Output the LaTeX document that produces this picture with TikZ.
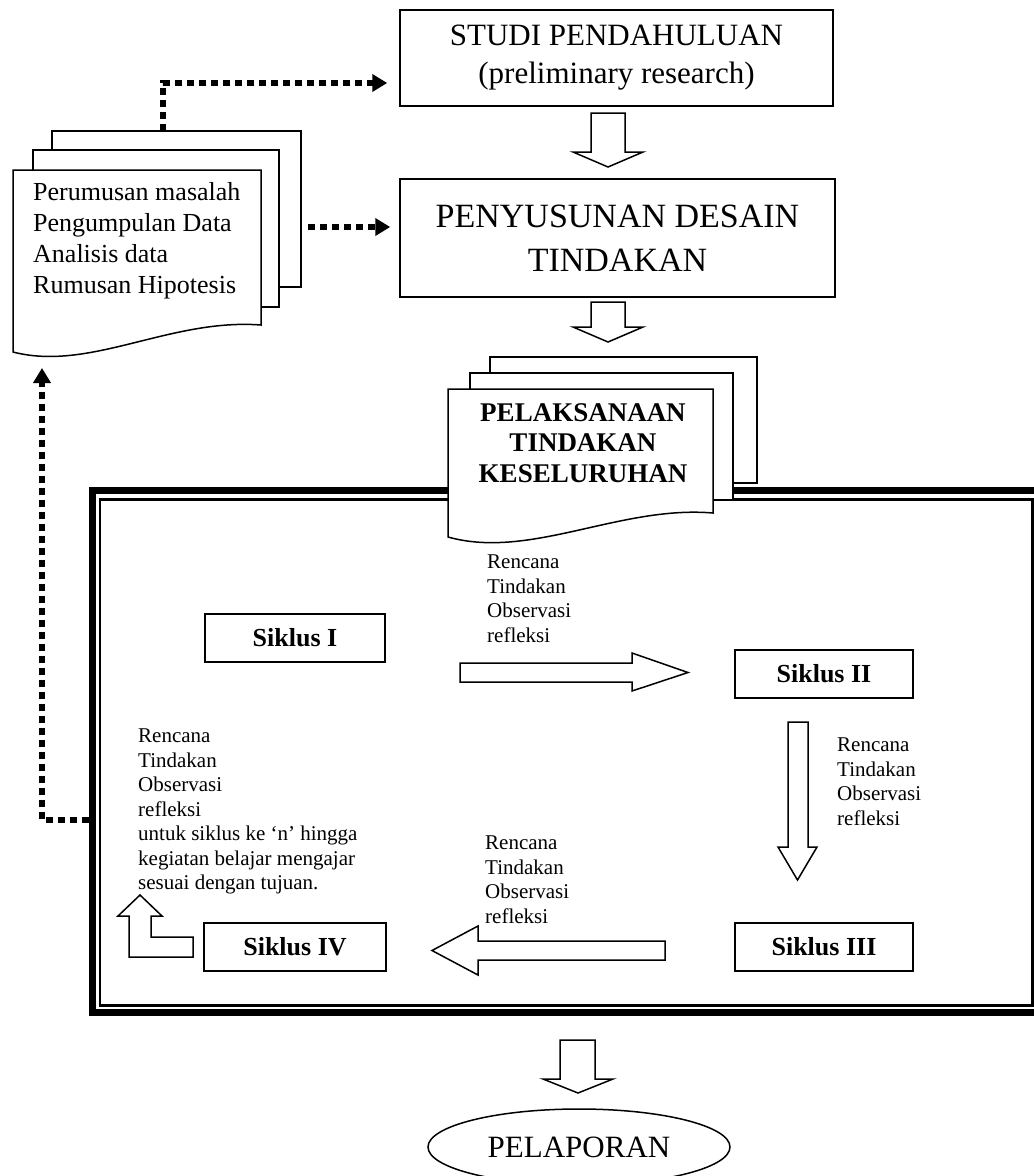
\documentclass[tikz,border=0pt]{standalone}
\usepackage{fontspec}
\setmainfont{Liberation Serif}
\usetikzlibrary{positioning,shapes.geometric,arrows.meta}

\begin{document}
\begin{tikzpicture}[x=1pt, y=-1pt,
  box/.style={draw, line width=1.5pt, inner sep=0pt, align=center, font=\fontsize{31}{38}\selectfont},
  siklus/.style={draw, line width=2pt, minimum width=180, minimum height=48, inner sep=0pt, font=\fontsize{26}{30}\selectfont\bfseries},
  paper/.style={draw, line width=1.5pt, fill=white},
  hollow/.style={draw, line width=1.5pt, fill=white},
  dots/.style={line width=6pt, dash pattern=on 7pt off 5pt, -{Triangle[length=15pt,width=17pt]}},
  note/.style={inner sep=0pt, anchor=north west, align=left, font=\fontsize{21}{24.5}\selectfont}]
\useasboundingbox (0,0) rectangle (1034,1176);

% Frame round the cycles
\draw[line width=7pt] (92.5,490.5) rectangle (1045,1012.5);
\draw[line width=2.5pt] (100,499.5) rectangle (1032.5,1005.5);

% Stacked sheets, left
\draw[paper] (52,131) rectangle (301,287);
\draw[paper] (33,150) rectangle (279,307);
\draw[paper] (13,170) -- (261,170) -- (261,325) .. controls (170,318) and (90,372) .. (13,352) -- cycle;
\node[note, font=\fontsize{26}{31}\selectfont] (langkah) at (33,182) {Perumusan masalah\\Pengumpulan Data\\Analisis data\\Rumusan Hipotesis};

% Top boxes
\node[box, minimum width=433, minimum height=96] (studi) at (616.5,58) {STUDI PENDAHULUAN\\(preliminary research)};
\node[box, minimum width=435, minimum height=118, font=\fontsize{34}{44}\selectfont] (desain) at (617.5,238) {PENYUSUNAN DESAIN\\TINDAKAN};

% Stacked sheets, middle
\draw[paper] (490,357) rectangle (757,483);
\draw[paper] (470,373) rectangle (733,500);
\draw[paper] (448,389) -- (713,389) -- (713,513) .. controls (620,505) and (530,560) .. (448,537) -- cycle;
\node[inner sep=0pt, align=center, anchor=north, font=\fontsize{27}{30.5}\selectfont\bfseries] (pelaksanaan) at (583,403) {PELAKSANAAN\\TINDAKAN\\KESELURUHAN};

% Cycles
\node[siklus] (s1) at (295,638) {Siklus I};
\node[siklus, minimum width=178] (s2) at (824,674) {Siklus II};
\node[siklus, minimum width=178] (s3) at (824,947) {Siklus III};
\node[siklus, minimum width=182] (s4) at (295,947) {Siklus IV};

% Notes
\node[note] (n12) at (487,555) {Rencana\\Tindakan\\Observasi\\refleksi};
\node[note] (n23) at (837,738) {Rencana\\Tindakan\\Observasi\\refleksi};
\node[note] (n34) at (485,836) {Rencana\\Tindakan\\Observasi\\refleksi};
\node[note] (n4n) at (138,729) {Rencana\\Tindakan\\Observasi\\refleksi\\untuk siklus ke `n' hingga\\kegiatan belajar mengajar\\sesuai dengan tujuan.};

% Hollow arrows
\draw[hollow] (591,113) -- (625,113) -- (625,152) -- (643,152) -- (608,167) -- (573,152) -- (591,152) -- cycle;
\draw[hollow] (591,302) -- (625,302) -- (625,327) -- (643,327) -- (608,342) -- (573,327) -- (591,327) -- cycle;
\draw[hollow] (460,663) -- (632,663) -- (632,653) -- (688,672.5) -- (632,691) -- (632,682) -- (460,682) -- cycle;
\draw[hollow] (788,722) -- (808,722) -- (808,847) -- (817,847) -- (797.5,880) -- (778,847) -- (788,847) -- cycle;
\draw[hollow] (665,941) -- (478,941) -- (478,926) -- (432,950.5) -- (478,975) -- (478,960) -- (665,960) -- cycle;
\draw[hollow] (193,937) -- (151,937) -- (151,916) -- (162,916) -- (140,895) -- (118,916) -- (129,916) -- (129,957) -- (193,957) -- cycle;
\draw[hollow] (560,1040) -- (595,1040) -- (595,1079) -- (613,1079) -- (578,1093) -- (543,1079) -- (560,1079) -- cycle;

% Report
\node[draw, ellipse, line width=1.5pt, minimum width=302, minimum height=76, inner sep=0pt, font=\fontsize{31}{37}\selectfont] (laporan) at (579,1147) {PELAPORAN};

% Dotted links
\coordinate (kiriAtas) at (163,131);
\coordinate (kiriKanan) at (308,227);
\coordinate (bingkai) at (89,820);
\coordinate (kiriBawah) at (42,368);
\draw[dots] (kiriAtas) |- ([xshift=-12pt,yshift=-25pt]studi.west);
\draw[dots, shorten >=9pt] (kiriKanan) -- (kiriKanan -| desain.west);
\draw[dots] (bingkai) -| (kiriBawah);

\end{tikzpicture}
\end{document}
